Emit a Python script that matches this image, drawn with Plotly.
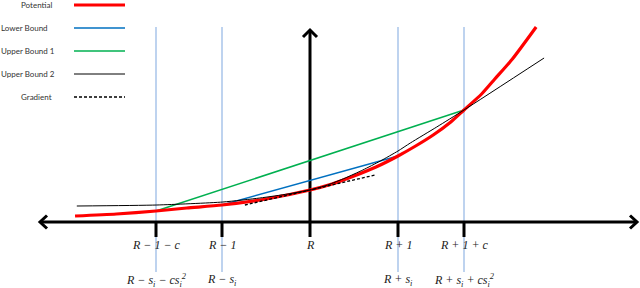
import plotly.graph_objects as go

# ---- data (x in units relative to R; y = height above the axis) ----
tick_x = [-1.75, -1.0, 0.0, 1.0, 1.75]
tick_labels_top = ["R − 1 − c", "R − 1", "R", "R + 1", "R + 1 + c"]
tick_labels_bottom = ["R − s<sub>i</sub> − cs<sub>i</sub><sup>2</sup>", "R − s<sub>i</sub>", "",
                      "R + s<sub>i</sub>", "R + s<sub>i</sub> + cs<sub>i</sub><sup>2</sup>"]
guide_x = [-1.75, -1.0, 1.0, 1.75]

pot_x = [-2.67, -2.2, -1.75, -1.4, -1.0, -0.5, 0.0, 0.25, 0.5, 0.75, 1.0, 1.2, 1.4, 1.6, 1.75, 1.95, 2.1, 2.3, 2.57]
pot_y = [6, 8, 11, 14, 17, 23, 32, 38, 46, 55, 66, 76, 87, 100, 112, 128, 143, 163, 195]

lb_x = [-1.0, 1.0]
lb_y = [17, 66]

ub1_x = [-1.75, 1.75]
ub1_y = [11, 112]

ub2_x = [-2.65, -1.74, -0.99, -0.57, -0.25, 0.0, 0.2, 0.4, 0.6, 0.8, 1.0, 1.14, 1.44, 1.75, 2.66]
ub2_y = [16, 17, 20, 24, 28, 32, 37, 44, 52, 61, 71, 79, 95, 112, 164]

grad_x = [-0.74, 0.74]
grad_y = [17, 47]

legend_names = ["Potential", "Lower Bound", "Upper Bound 1", "Upper Bound 2", "Gradient"]
legend_colors = ["#ff0000", "#0070c0", "#00b050", "#000000", "#000000"]
legend_widths = [3, 1.5, 1.5, 1, 1.3]
legend_dash = ["solid", "solid", "solid", "solid", "3px,2px"]
legend_anchor = [("right", 53), ("left", 0), ("left", 0), ("left", 0), ("right", 53)]

W, H = 640, 288
PX = 88.0           # pixels per x unit
X0 = 310.0          # pixel of R
Y0 = 222.0          # pixel of axis
xr = [-X0 / PX, (W - X0) / PX]
yr = [Y0 - H, Y0]

fig = go.Figure()

# guide lines (light blue verticals)
for gx in guide_x:
    fig.add_trace(go.Scatter(x=[gx, gx], y=[195, -50], mode="lines",
                             line=dict(color="#a9c4ea", width=1.5), hoverinfo="skip"))

# axes
ax_left, ax_right, ax_top = (40 - X0) / PX, (637 - X0) / PX, Y0 - 30
fig.add_trace(go.Scatter(x=[ax_left, ax_right], y=[0, 0], mode="lines",
                         line=dict(color="black", width=3), hoverinfo="skip"))
fig.add_trace(go.Scatter(x=[0, 0], y=[0, ax_top], mode="lines",
                         line=dict(color="black", width=3), hoverinfo="skip"))
ah = 7 / PX
fig.add_trace(go.Scatter(x=[ax_left + ah, ax_left, ax_left + ah], y=[6.5, 0, -6.5], mode="lines",
                         line=dict(color="black", width=3), hoverinfo="skip"))
fig.add_trace(go.Scatter(x=[ax_right - ah, ax_right, ax_right - ah], y=[6.5, 0, -6.5], mode="lines",
                         line=dict(color="black", width=3), hoverinfo="skip"))
fig.add_trace(go.Scatter(x=[-ah, 0, ah], y=[ax_top - 7, ax_top, ax_top - 7], mode="lines",
                         line=dict(color="black", width=3), hoverinfo="skip"))

# tick marks
for tx in tick_x:
    fig.add_trace(go.Scatter(x=[tx, tx], y=[0, -15], mode="lines",
                             line=dict(color="black", width=3), hoverinfo="skip"))

# curves
fig.add_trace(go.Scatter(x=ub1_x, y=ub1_y, mode="lines", line=dict(color="#00b050", width=1.5)))
fig.add_trace(go.Scatter(x=lb_x, y=lb_y, mode="lines", line=dict(color="#0070c0", width=1.5)))
fig.add_trace(go.Scatter(x=pot_x, y=pot_y, mode="lines",
                         line=dict(color="#ff0000", width=3.2, shape="spline", smoothing=0.6)))
fig.add_trace(go.Scatter(x=ub2_x, y=ub2_y, mode="lines",
                         line=dict(color="#000000", width=1, shape="spline", smoothing=0.6)))
fig.add_trace(go.Scatter(x=grad_x, y=grad_y, mode="lines",
                         line=dict(color="#000000", width=1.3, dash="3px,2px")))

ann = []
lab_font = dict(family="Liberation Serif", size=12, color="#222")
for tx, t1, t2 in zip(tick_x, tick_labels_top, tick_labels_bottom):
    ann.append(dict(x=tx, y=Y0 - 245, text="<i>" + t1 + "</i>", showarrow=False,
                    xanchor="center", yanchor="middle", font=lab_font))
    if t2:
        ann.append(dict(x=tx, y=Y0 - 280, text="<i>" + t2 + "</i>", showarrow=False,
                        xanchor="center", yanchor="middle", font=lab_font))

shapes = []
for i, (nm, col, w, d, (anc, ax_px)) in enumerate(zip(legend_names, legend_colors, legend_widths,
                                                      legend_dash, legend_anchor)):
    py = 5 + 23 * i
    ann.append(dict(xref="paper", yref="paper", x=ax_px / W, y=1 - py / H, text=nm, showarrow=False,
                    xanchor=anc, yanchor="middle", borderpad=0,
                    font=dict(family="Lato", size=8, color="#333")))
    shapes.append(dict(type="line", xref="paper", yref="paper", x0=74 / W, x1=125 / W,
                       y0=1 - py / H, y1=1 - py / H, line=dict(color=col, width=w, dash=d)))

fig.update_layout(width=W, height=H, margin=dict(l=0, r=0, t=0, b=0),
                  paper_bgcolor="white", plot_bgcolor="white", showlegend=False,
                  xaxis=dict(range=xr, visible=False, fixedrange=True),
                  yaxis=dict(range=yr, visible=False, fixedrange=True),
                  annotations=ann, shapes=shapes)
fig.write_html("out.html", config={"displayModeBar": False},
               post_script="document.body.style.margin='0';document.body.style.overflow='hidden';")
